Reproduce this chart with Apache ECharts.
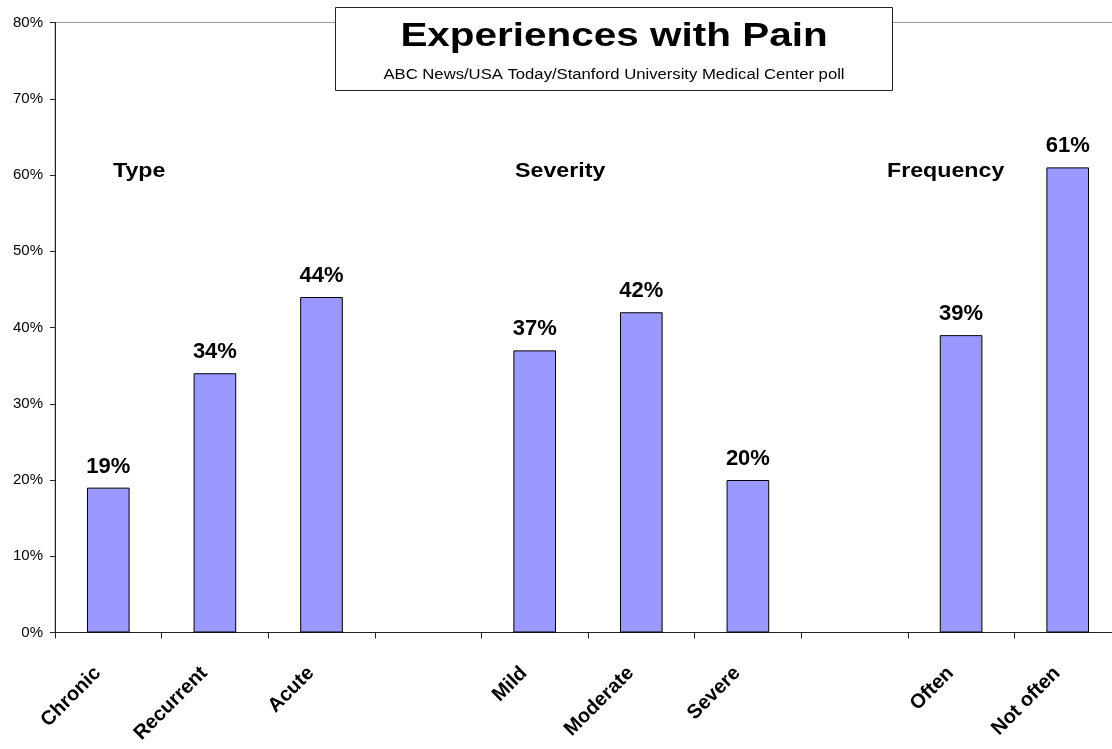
<!DOCTYPE html>
<html>
<head>
<meta charset="utf-8">
<script src="https://cdn.jsdelivr.net/npm/echarts@6/dist/echarts.min.js"></script>
<style>
html,body{margin:0;padding:0;background:#fff;}
#chart{width:1112px;height:749px;}
</style>
</head>
<body>
<div id="chart"></div>
<script>
const categories = ['Chronic', 'Recurrent', 'Acute', '', 'Mild', 'Moderate', 'Severe', '', 'Often', 'Not often'];
const values = [19, 34, 44, null, 37, 42, 20, null, 39, 61];
const yTicks = [0, 10, 20, 30, 40, 50, 60, 70, 80];
const groupLabels = ['Type', 'Severity', 'Frequency'];
const titleText = 'Experiences with Pain';
const subtitleText = 'ABC News/USA Today/Stanford University Medical Center poll';

const FONT = 'Arial, "Liberation Sans", sans-serif';
const SX = 1.19;
const chart = echarts.init(document.getElementById('chart'), null, {renderer: 'canvas'});

function txt(text, x, y, font, align, z) {
  return {type: 'text', x: x, y: y, scaleX: SX, originX: 0, originY: 0, z: z,
          style: {text: text, font: font, fill: '#000', align: align, verticalAlign: 'middle'}};
}

const option = {
  animation: false,
  backgroundColor: '#ffffff',
  grid: {
    left: 55, right: -9, top: 22.5, bottom: 116.5,
    show: true, borderColor: '#999999', borderWidth: 1,
    backgroundColor: 'transparent',
    outerBoundsMode: 'none'
  },
  xAxis: {
    type: 'category',
    data: categories,
    boundaryGap: true,
    axisLine: {show: true, lineStyle: {color: '#222', width: 1}},
    axisTick: {show: true, length: 6, alignWithLabel: false, interval: 0, lineStyle: {color: '#222'}},
    axisLabel: {
      interval: 0, rotate: 45, margin: 27,
      padding: [0, 15, 0, 0],
      fontFamily: FONT, fontWeight: 'bold', fontSize: 20, color: '#000'
    },
    splitLine: {show: false}
  },
  yAxis: {
    type: 'value',
    min: yTicks[0], max: yTicks[yTicks.length - 1], interval: 10,
    axisLine: {show: true, lineStyle: {color: '#222', width: 1}},
    axisTick: {show: true, length: 5, lineStyle: {color: '#222'}},
    axisLabel: {
      formatter: '{value}%', margin: 12,
      fontFamily: FONT, fontSize: 15, color: '#000'
    },
    splitLine: {show: false}
  },
  series: [{
    type: 'bar',
    data: values,
    barWidth: '40%',
    itemStyle: {color: '#9999FF', borderColor: '#000', borderWidth: 1},
    label: {
      show: true, position: 'top', distance: 10,
      formatter: p => p.value == null ? '' : p.value + '%',
      fontFamily: FONT, fontWeight: 'bold', fontSize: 22, color: '#000'
    }
  }],
  graphic: [
    txt(groupLabels[0], 113, 172, 'bold 19.5px ' + FONT, 'left', 10),
    txt(groupLabels[1], 515, 172, 'bold 19.5px ' + FONT, 'left', 10),
    txt(groupLabels[2], 887, 172, 'bold 19.5px ' + FONT, 'left', 10),
    {type: 'rect', z: 20, shape: {x: 335.5, y: 7.5, width: 557, height: 83},
     style: {fill: '#fff', stroke: '#222', lineWidth: 1}},
    txt(titleText, 614, 37, 'bold 34px ' + FONT, 'center', 21),
    txt(subtitleText, 614, 75, '14px ' + FONT, 'center', 21)
  ]
};
chart.setOption(option);
</script>
</body>
</html>
